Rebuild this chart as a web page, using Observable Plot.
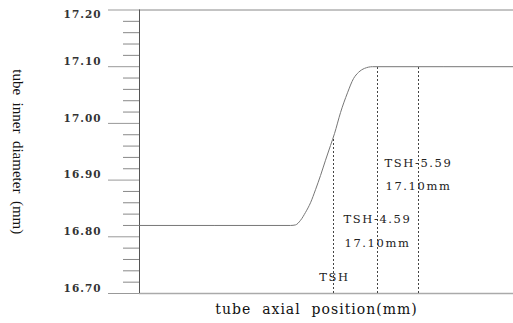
<!DOCTYPE html>
<html><head><meta charset="utf-8">
<script src="https://cdn.jsdelivr.net/npm/d3@7"></script>
<script src="https://cdn.jsdelivr.net/npm/@observablehq/plot@0.6"></script>
<style>
body{margin:0;background:#fff;} #chart{width:513px;height:323px;}
g[font-size="10.5"] text{letter-spacing:1px;}
g[font-size="11.5"] text{letter-spacing:1.6px;}
g[font-size="14"] text{letter-spacing:1px;}
</style>
</head><body><div id="chart"></div>
<script>
// Curve: tube inner diameter vs axial position
const positionMm = [0, 15.1, 15.6, 16.1, 16.6, 17.1, 17.6, 18.1, 18.6, 19.1, 19.5, 20.1, 20.8, 21.4, 21.9, 22.5, 23.3, 37.4];
const diameterMm = [16.82, 16.82, 16.821, 16.829, 16.843, 16.860, 16.883, 16.908, 16.935, 16.961, 16.982, 17.019, 17.054, 17.079, 17.090, 17.097, 17.100, 17.100];
// Marker lines
const markerPos = [19.4, 23.8, 27.9];
const markerTop = [16.977, 17.10, 17.10];
// Annotation labels
const labelText = ["TSH", "TSH-4.59", "17.10mm", "TSH-5.59", "17.10mm"];
const labelX = [19.5, 23.8, 23.8, 27.9, 27.9];
const labelY = [16.728, 16.830, 16.788, 16.929, 16.889];
// Axis ticks
const majorTicks = [16.7, 16.8, 16.9, 17.0, 17.1, 17.2];
const majorLabels = ["16.70", "16.80", "16.90", "17.00", "17.10", "17.20"];
const minorTicks = [16.72, 16.74, 16.76, 16.78, 16.82, 16.84, 16.86, 16.88, 16.92, 16.94, 16.96, 16.98, 17.02, 17.04, 17.06, 17.08, 17.12, 17.14, 17.16, 17.18];
const xTitle = "tube  axial  position(mm)";
const yTitle = "tube  inner  diameter  (mm)";

const curve = positionMm.map((x, i) => ({x, y: diameterMm[i]}));
const markers = markerPos.map((x, i) => ({x, y2: markerTop[i]}));
const labels = labelText.map((t, i) => ({t, x: labelX[i], y: labelY[i]}));
const yLabels = majorTicks.map((y, i) => ({y, t: majorLabels[i], top: y === 17.2}));

const serif = "DejaVu Serif";
const tickStyle = {y: "y", text: "t", frameAnchor: "left", dx: -38, textAnchor: "end", fontSize: 10.5, fontWeight: "bold", fill: "#333", fontFamily: serif};
const chart = Plot.plot({
  width: 513,
  height: 323,
  marginLeft: 139,
  marginRight: 0,
  marginTop: 9.5,
  marginBottom: 30,
  x: {domain: [0, 37.4], axis: null},
  y: {domain: [16.7, 17.2], axis: null},
  style: {background: "#fff", fontFamily: serif},
  marks: [
    Plot.axisY({ticks: minorTicks, tickSize: 16, text: null, label: null, stroke: "#888"}),
    Plot.axisY({ticks: majorTicks, tickSize: 31, text: null, label: null, stroke: "#999"}),
    Plot.ruleY([17.2], {stroke: "#888"}),
    Plot.ruleY([16.7], {stroke: "#aaa", strokeWidth: 1.6}),
    Plot.ruleX([0], {stroke: "#555"}),
    Plot.ruleX(markers, {x: "x", y1: 16.7, y2: "y2", stroke: "#444", strokeDasharray: "2,2"}),
    Plot.line(curve, {x: "x", y: "y", curve: "monotone-x", stroke: "#777", strokeWidth: 1}),
    Plot.text(yLabels.filter(d => !d.top), {...tickStyle, dy: -5}),
    Plot.text(yLabels.filter(d => d.top), {...tickStyle, dy: 5}),
    Plot.text(labels, {x: "x", y: "y", text: "t", fontSize: 11.5, fill: "#222", fontFamily: serif}),
    Plot.text([xTitle], {frameAnchor: "bottom", dy: 20, dx: -10, fontSize: 14, fill: "#111", fontFamily: serif}),
    Plot.text([yTitle], {frameAnchor: "left", dx: -122, rotate: 90, textAnchor: "middle", fontSize: 15, fill: "#111", fontFamily: "Liberation Serif"})
  ]
});
document.getElementById("chart").appendChild(chart);
</script>
</body></html>
